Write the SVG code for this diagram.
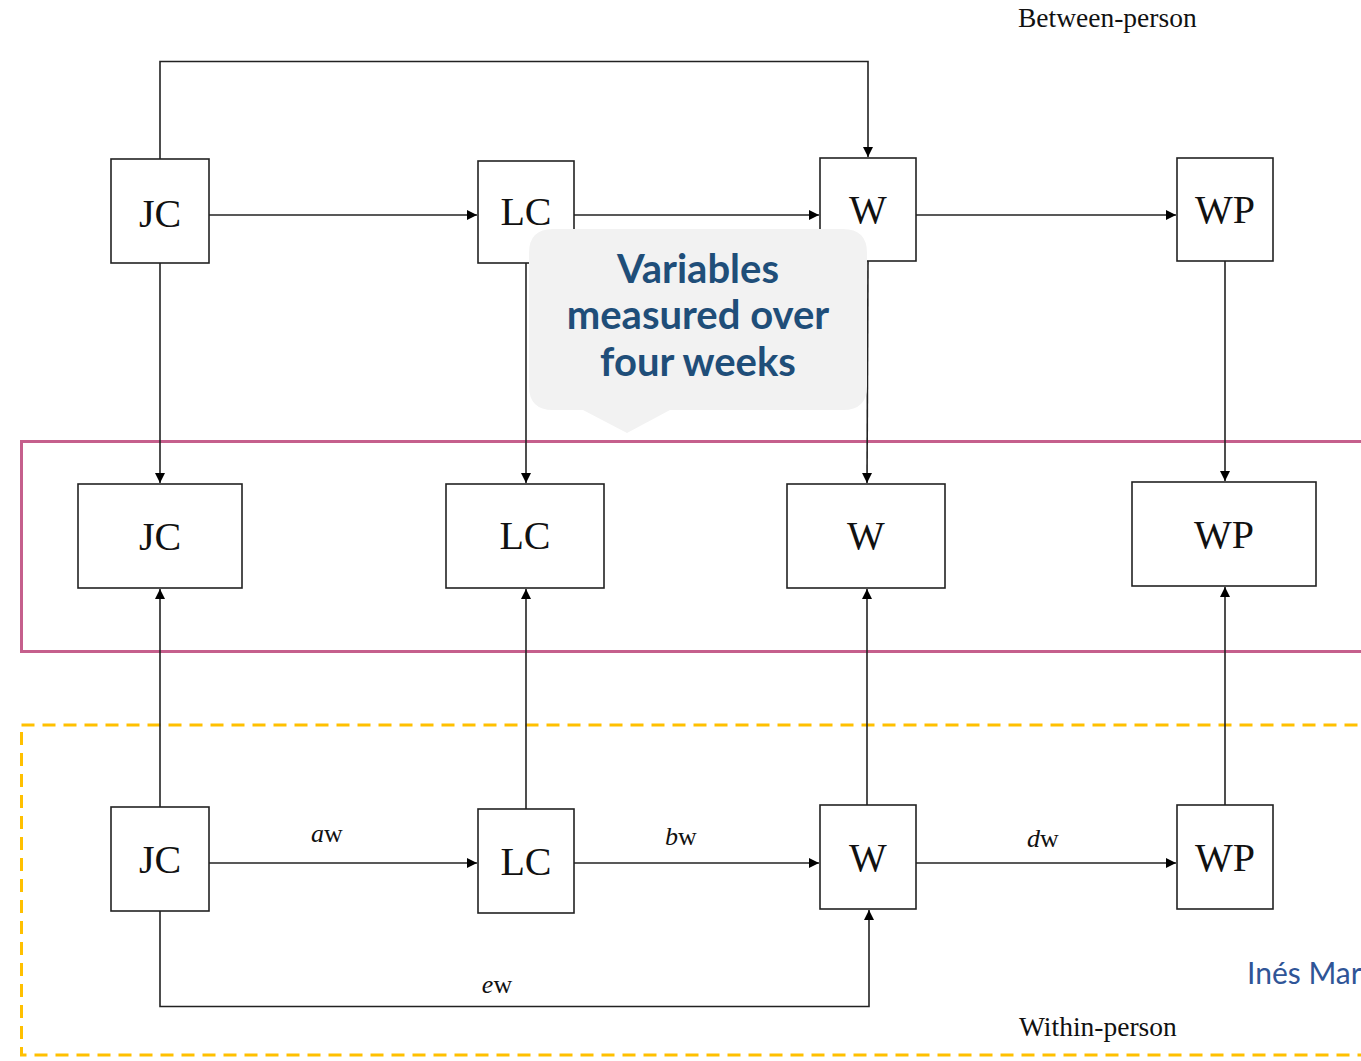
<svg xmlns="http://www.w3.org/2000/svg" width="1361" height="1061" viewBox="0 0 1361 1061">
<defs>
<marker id="ah" viewBox="0 0 10 10" refX="10" refY="5" markerWidth="12" markerHeight="10" markerUnits="userSpaceOnUse" orient="auto">
<path d="M0,0 L10,5 L0,10 Z" fill="#000"/>
</marker>
<style>
.box{fill:#fff;stroke:#222;stroke-width:1.6}
.lbl{font-family:"Liberation Serif","Times New Roman",serif;font-size:40px;fill:#111;text-anchor:middle}
.c{fill:none;stroke:#222;stroke-width:1.6}
.a{fill:none;stroke:#222;stroke-width:1.6;marker-end:url(#ah)}
.el{font-family:"Liberation Serif","Times New Roman",serif;font-size:26px;fill:#111;text-anchor:middle}
.cap{font-family:"Liberation Serif","Times New Roman",serif;font-size:27.5px;fill:#111}
.call{font-family:Lato,"Open Sans",sans-serif;font-weight:bold;font-size:40px;fill:#1F4E79;text-anchor:middle}
</style>
</defs>
<rect width="1361" height="1061" fill="#fff"/>

<rect id="between-band" x="21.5" y="441.5" width="1360" height="210" fill="none" stroke="#C55F8C" stroke-width="3"/>
<rect id="within-band" x="21.5" y="725" width="1360" height="330" fill="none" stroke="#FFC000" stroke-width="3" stroke-dasharray="13 8"/>

<g id="connectors">
<path class="a" d="M160,159 V61.5 H868 V157"/>
<path class="a" d="M209,215 H477"/>
<path class="a" d="M574,215 H819"/>
<path class="a" d="M916,215 H1176"/>
<path class="a" d="M160,263 V483"/>
<path class="a" d="M526,263 V483"/>
<path class="a" d="M868,261 L867,483"/>
<path class="a" d="M1225,261 V481"/>
<path class="a" d="M160,807 V589"/>
<path class="a" d="M526,809 V589"/>
<path class="a" d="M867,805 V589"/>
<path class="a" d="M1225,805 V587"/>
<path class="a" d="M209,863 H477"/>
<path class="a" d="M574,863 H819"/>
<path class="a" d="M916,863 H1176"/>
<path class="a" d="M160,911 V1006.5 H869 V910"/>
<text class="el" x="327" y="842"><tspan font-style="italic">a</tspan>w</text>
<text class="el" x="681" y="845"><tspan font-style="italic">b</tspan>w</text>
<text class="el" x="1043" y="847"><tspan font-style="italic">d</tspan>w</text>
<text class="el" x="497" y="993"><tspan font-style="italic">e</tspan>w</text>
</g>

<g id="jc-between"><rect class="box" x="111" y="159" width="98" height="104"/><text class="lbl" x="160" y="227">JC</text></g>
<g id="lc-between"><rect class="box" x="478" y="161" width="96" height="102"/><text class="lbl" x="526" y="225">LC</text></g>
<g id="w-between"><rect class="box" x="820" y="158" width="96" height="103"/><text class="lbl" x="868" y="223">W</text></g>
<g id="wp-between"><rect class="box" x="1177" y="158" width="96" height="103"/><text class="lbl" x="1225" y="223">WP</text></g>

<g id="jc-mid"><rect class="box" x="78" y="484" width="164" height="104"/><text class="lbl" x="160" y="550">JC</text></g>
<g id="lc-mid"><rect class="box" x="446" y="484" width="158" height="104"/><text class="lbl" x="525" y="549">LC</text></g>
<g id="w-mid"><rect class="box" x="787" y="484" width="158" height="104"/><text class="lbl" x="866" y="549">W</text></g>
<g id="wp-mid"><rect class="box" x="1132" y="482" width="184" height="104"/><text class="lbl" x="1224" y="548">WP</text></g>

<g id="jc-within"><rect class="box" x="111" y="807" width="98" height="104"/><text class="lbl" x="160" y="873">JC</text></g>
<g id="lc-within"><rect class="box" x="478" y="809" width="96" height="104"/><text class="lbl" x="526" y="875">LC</text></g>
<g id="w-within"><rect class="box" x="820" y="805" width="96" height="104"/><text class="lbl" x="868" y="871">W</text></g>
<g id="wp-within"><rect class="box" x="1177" y="805" width="96" height="104"/><text class="lbl" x="1225" y="871">WP</text></g>

<text id="between-label" class="cap" x="1018" y="27">Between-person</text>
<text id="within-label" class="cap" x="1019" y="1036">Within-person</text>

<g id="callout">
<path d="M553,229 H843 Q867,229 867,253 V386 Q867,410 843,410 H670 L627,433 L583,410 H553 Q529,410 529,386 V253 Q529,229 553,229 Z" fill="#F2F2F2"/>
<text class="call" x="698" y="283">Variables</text>
<text class="call" x="698" y="329">measured over</text>
<text class="call" x="698" y="376">four weeks</text>
</g>

<text id="author" x="1247" y="984" font-family="Lato,'Open Sans',sans-serif" font-size="30" fill="#2F5597">Inés Mar</text>
</svg>
